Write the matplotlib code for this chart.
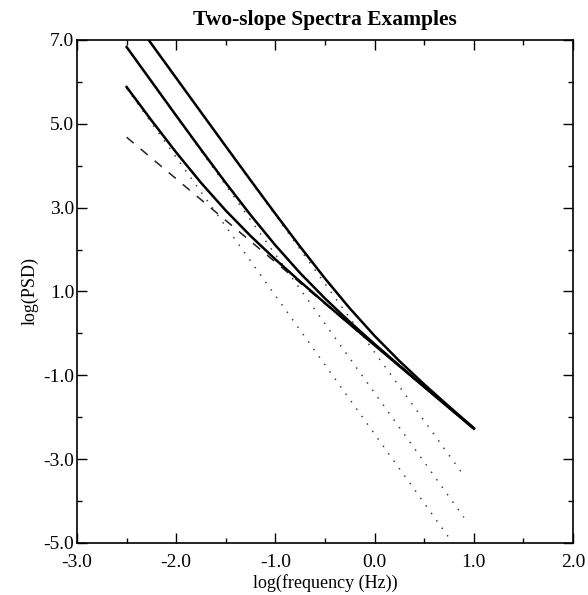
import matplotlib
matplotlib.use("Agg")
import matplotlib.pyplot as plt
from matplotlib.ticker import MultipleLocator, FormatStrFormatter

plt.rcParams['font.family'] = ['Liberation Serif', 'DejaVu Serif']
plt.rcParams['axes.unicode_minus'] = False

# ---- data ----
x_curve = [-2.5, -2.25, -2.0, -1.75, -1.5, -1.25, -1.0, -0.75, -0.5, -0.25, 0.0, 0.25, 0.5, 0.75, 1.0]
x_curve1 = [-2.3, -2.25, -2.0, -1.75, -1.5, -1.25, -1.0, -0.75, -0.5, -0.25, 0.0, 0.25, 0.5, 0.75, 1.0]
psd_curve1 = [7.072, 6.908, 6.092, 5.276, 4.462, 3.653, 2.852, 2.067, 1.310, 0.597, -0.059, -0.659, -1.215, -1.743, -2.256]
psd_curve2 = [6.833, 6.012, 5.194, 4.384, 3.589, 2.823, 2.101, 1.437, 0.833, 0.274, -0.254, -0.767, -1.271, -1.771, -2.270]
psd_curve3 = [5.878, 5.083, 4.316, 3.594, 2.929, 2.324, 1.765, 1.236, 0.723, 0.219, -0.282, -0.780, -1.277, -1.774, -2.270]

# steep low-frequency components (dotted), endpoints
x_dotted = [-2.5, 0.9]
psd_dotted1 = [7.725, -3.393]
psd_dotted2 = [6.830, -4.390]
psd_dotted3 = [5.850, -5.370]

# common high-frequency asymptote (dashed), endpoints
x_dashed = [-2.5, 1.0]
psd_dashed = [4.680, -2.271]

x_ticks = [-3.0, -2.0, -1.0, 0.0, 1.0, 2.0]
y_ticks = [7.0, 5.0, 3.0, 1.0, -1.0, -3.0, -5.0]

fig = plt.figure(figsize=(5.88, 5.95), dpi=100)
ax = fig.add_axes([0.131, 0.0874, 0.8435, 0.8454])

dot_style = dict(color='#444444', lw=1.1, linestyle=(0, (1, 5)))
ax.plot(x_dotted, psd_dotted1, **dot_style)
ax.plot(x_dotted, psd_dotted2, **dot_style)
ax.plot(x_dotted, psd_dotted3, **dot_style)
ax.plot(x_dashed, psd_dashed, color='#222222', lw=1.1, linestyle=(0, (6, 6)))

for xs, ys in [(x_curve1, psd_curve1), (x_curve, psd_curve2), (x_curve, psd_curve3)]:
    ax.plot(xs, ys, color='black', lw=1.8, solid_joinstyle='round')

ax.set_xlim(-3.0, 2.0)
ax.set_ylim(-5.0, 7.0)
ax.set_xticks(x_ticks)
ax.set_yticks(y_ticks)
ax.xaxis.set_minor_locator(MultipleLocator(0.5))
ax.yaxis.set_minor_locator(MultipleLocator(1.0))
ax.xaxis.set_major_formatter(FormatStrFormatter('%.1f'))
ax.yaxis.set_major_formatter(FormatStrFormatter('%.1f'))
ax.tick_params(which='both', direction='in', top=True, right=True, width=1.0, labelsize=14)
ax.tick_params(which='major', length=7)
ax.tick_params(which='minor', length=3.5)
ax.tick_params(axis='x', pad=8)
ax.tick_params(axis='y', pad=2)
for s in ax.spines.values():
    s.set_linewidth(1.2)

ax.set_title('Two-slope Spectra Examples', fontsize=15.5, fontweight='bold', pad=11)
ax.set_xlabel('log(frequency (Hz))', fontsize=13, labelpad=2)
ax.set_ylabel('log(PSD)', fontsize=13, labelpad=3)

fig.savefig('out.png', dpi=100)
